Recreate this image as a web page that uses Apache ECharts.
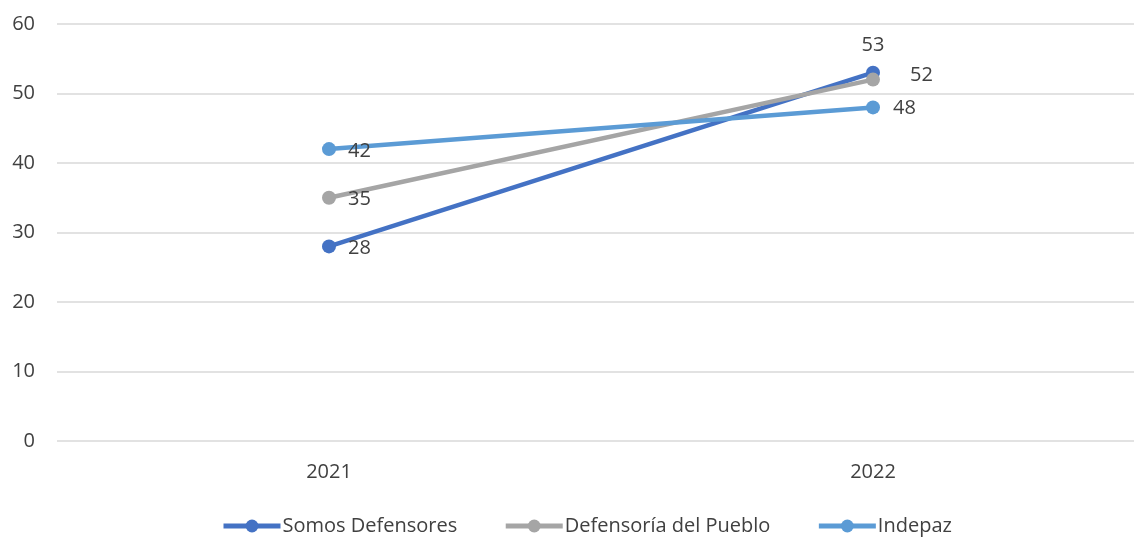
<!DOCTYPE html>
<html><head><meta charset="utf-8">
<script src="https://cdn.jsdelivr.net/npm/echarts@6/dist/echarts.min.js"></script>
<style>html,body{margin:0;padding:0;background:#fff}#c{width:1134px;height:537px}</style>
</head><body><div id="c"></div>
<script>
const categories = ['2021', '2022'];
const somosDefensores = [28, 53];
const defensoria = [35, 52];
const indepaz = [42, 48];
const yTicks = {min: 0, max: 60, interval: 10};

const FONT = 'Open Sans';
const txt = '#404040';
const FS = 20;
function series(name, data, color, labels) {
  return {
    name, type: 'line', data: data.map((v, i) => ({value: v, label: labels[i]})),
    symbol: 'circle', symbolSize: 14,
    lineStyle: {width: 4.5, color}, itemStyle: {color},
    label: {show: true, color: txt, fontSize: FS, fontFamily: FONT},
    emphasis: {disabled: true}
  };
}
const chart = echarts.init(document.getElementById('c'));
chart.setOption({
  animation: false,
  grid: {left: 57, top: 24, width: 1088, height: 417, outerBoundsMode: 'none', containLabel: false},
  legend: {
    bottom: 1, left: 221, padding: 0, itemWidth: 57, itemHeight: 16, itemGap: 46,
    lineStyle: {width: 5},
    textStyle: {color: txt, fontSize: FS, fontFamily: FONT, padding: [0, 0, 0, -3]},
    data: ['Somos Defensores', 'Defensoría del Pueblo', 'Indepaz']
  },
  xAxis: {
    type: 'category', data: categories, boundaryGap: true,
    axisLine: {show: false}, axisTick: {show: false},
    axisLabel: {color: txt, fontSize: FS, fontFamily: FONT, margin: 21}
  },
  yAxis: {
    type: 'value', min: yTicks.min, max: yTicks.max, interval: yTicks.interval,
    axisLine: {show: false}, axisTick: {show: false},
    axisLabel: {color: txt, fontSize: FS, fontFamily: FONT, margin: 22},
    splitLine: {lineStyle: {color: '#d9d9d9', width: 1.5}}
  },
  series: [
    series('Somos Defensores', somosDefensores, '#4472C4',
      [{position: 'right', distance: 12, offset: [0, 2]}, {position: 'top', distance: 10}]),
    series('Defensoría del Pueblo', defensoria, '#A5A5A5',
      [{position: 'right', distance: 12, offset: [0, 2]}, {position: 'right', distance: 30, offset: [0, -4]}]),
    series('Indepaz', indepaz, '#5B9BD5',
      [{position: 'right', distance: 12, offset: [0, 2]}, {position: 'right', distance: 13, offset: [0, 1]}])
  ]
});
</script></body></html>
